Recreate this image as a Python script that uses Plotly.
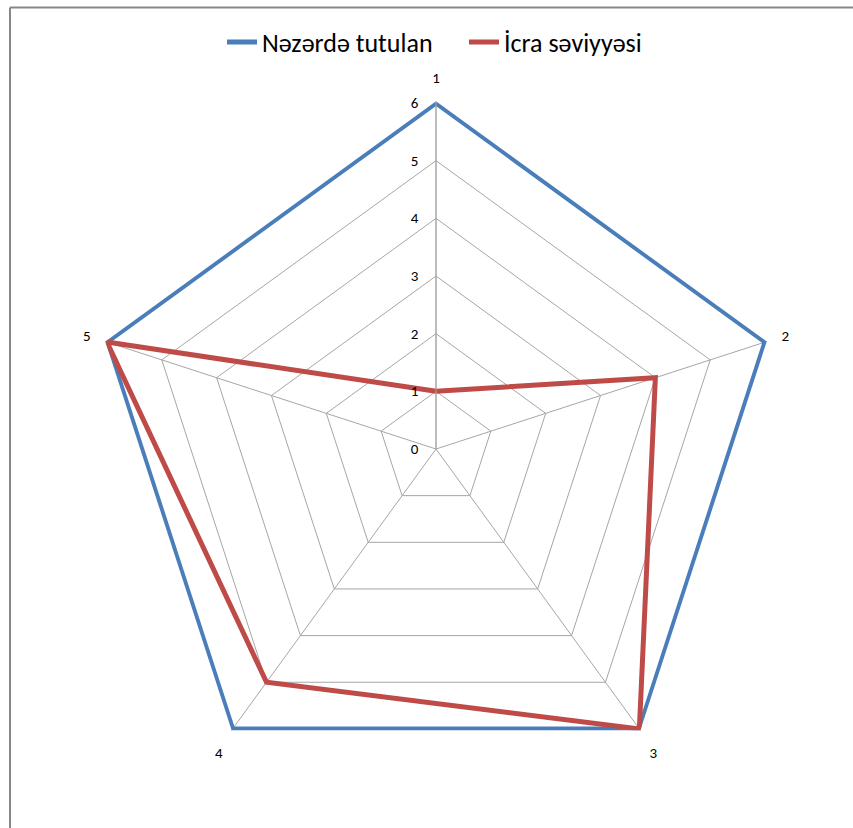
import plotly.graph_objects as go

categories = ["1", "2", "3", "4", "5"]
planned = [6, 6, 6, 6, 6]
actual = [1, 4, 6, 5, 6]
series_names = ["Nəzərdə tutulan", "İcra səviyyəsi"]
radial_ticks = [0, 1, 2, 3, 4, 5, 6]
r_max = 6.03

W, H = 853, 828
cx, cy, R6 = 436, 449, 346
R = R6 * r_max / 6

fig = go.Figure()
for name, vals, color, lg in [(series_names[0], planned, "#4A7EBB", "legend"),
                              (series_names[1], actual, "#BE4B48", "legend2")]:
    fig.add_trace(go.Scatterpolar(
        r=vals + vals[:1], theta=categories + categories[:1],
        mode="lines", name=name, cliponaxis=False, legend=lg,
        line=dict(color=color, width=5),
    ))

leg_common = dict(orientation="h", y=1 - 42 / H, yanchor="middle", xanchor="left",
                  font=dict(size=26), bgcolor="rgba(0,0,0,0)")

fig.update_layout(
    width=W, height=H,
    margin=dict(l=0, r=0, t=0, b=0),
    paper_bgcolor="white",
    font=dict(family="Carlito, Lato, Liberation Sans, sans-serif", color="#000000"),
    showlegend=True,
    legend=dict(x=(228 - 6) / W, **leg_common),
    legend2=dict(x=(468 - 4) / W, **leg_common),
    polar=dict(
        domain=dict(x=[(cx - R) / W, (cx + R) / W], y=[(H - cy - R) / H, (H - cy + R) / H]),
        gridshape="linear",
        bgcolor="white",
        angularaxis=dict(
            type="category", categoryarray=categories,
            rotation=90, direction="clockwise",
            showline=False, gridcolor="#A6A6A6", gridwidth=1,
            ticks="outside", ticklen=12, tickcolor="rgba(0,0,0,0)",
            tickfont=dict(size=15, color="#000000"),
        ),
        radialaxis=dict(
            range=[0, r_max], tickvals=radial_ticks, ticktext=[str(v) for v in radial_ticks],
            angle=90, side="counterclockwise", tickangle=90,
            showline=True, linecolor="#A6A6A6", linewidth=1,
            gridcolor="#A6A6A6", gridwidth=1,
            ticks="outside", ticklen=12, tickcolor="rgba(0,0,0,0)",
            tickfont=dict(size=15, color="#000000"),
        ),
    ),
    shapes=[
        dict(type="line", xref="paper", yref="paper", x0=10 / W, x1=1, y0=1 - 7.5 / H, y1=1 - 7.5 / H,
             line=dict(color="#878787", width=2)),
        dict(type="line", xref="paper", yref="paper", x0=10 / W, x1=10 / W, y0=0, y1=1 - 7.5 / H,
             line=dict(color="#878787", width=2)),
    ],
)

fig.write_html("out.html")
